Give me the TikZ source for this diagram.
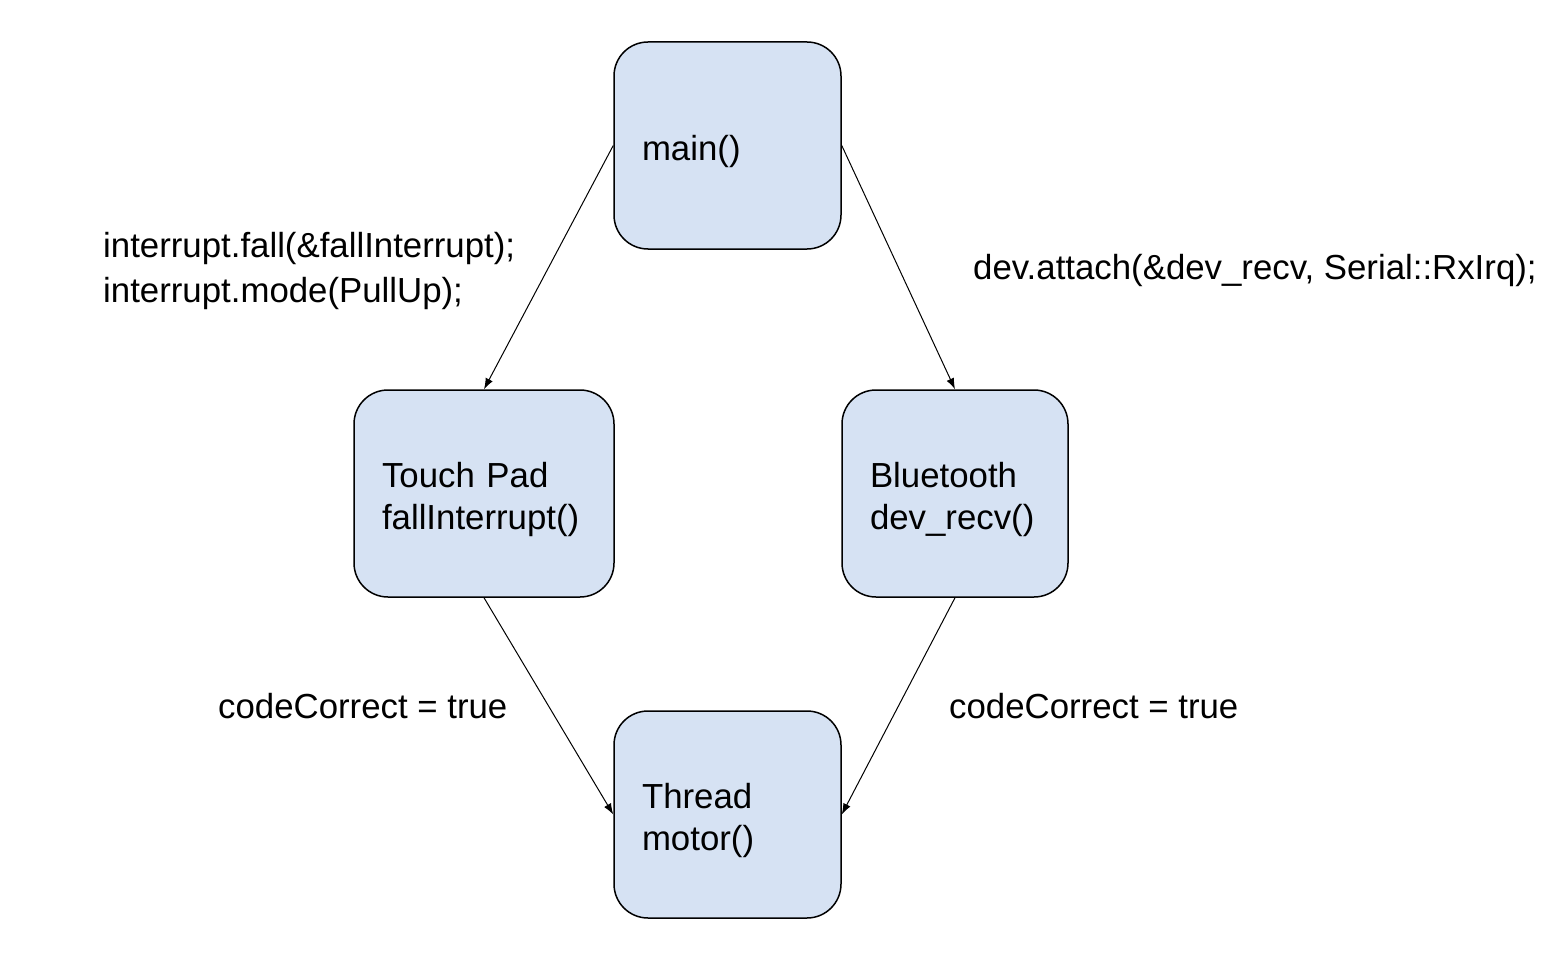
\documentclass[tikz,border=0pt]{standalone}
\usepackage{fontspec}
\setmainfont{Liberation Sans}
\usetikzlibrary{arrows.meta}
\definecolor{boxfill}{RGB}{214,226,243}
\begin{document}
\begin{tikzpicture}[x=1pt,y=-1pt,
  box/.style={draw=black, fill=boxfill, line width=1.5pt, rounded corners=34pt,
    minimum height=207pt, inner xsep=28pt, inner ysep=0pt, align=left,
    execute at begin node={\rule{0pt}{38pt}},
    font=\fontsize{34.8}{42}\selectfont},
  lbl/.style={anchor=west, align=left, inner sep=0pt, font=\fontsize{34.8}{45}\selectfont},
  conn/.style={line width=1pt, -{Latex[length=11pt,width=8pt]}}]
\useasboundingbox (0,0) rectangle (1550,955);
\node[box, text width=171pt] (main) at (727.5,145.5) {main()};
\node[box, text width=204pt] (tp) at (484,493.5) {Touch Pad\\fallInterrupt()};
\node[box, text width=170pt] (bt) at (955,493.5) {Bluetooth\\dev\_recv()};
\node[box, text width=171pt] (th) at (727.5,814.5) {Thread\\motor()};
\draw[conn] (main.west) -- (tp.north);
\draw[conn] (main.east) -- (bt.north);
\draw[conn] (tp.south) -- (th.west);
\draw[conn] (bt.south) -- (th.east);
\node[lbl] (l1) at (103,271) {interrupt.fall(\&fallInterrupt);\\interrupt.mode(PullUp);};
\node[lbl] (l2) at (973,271) {dev.attach(\&dev\_recv, Serial::RxIrq);};
\node[lbl] (l3) at (218,706) {codeCorrect = true};
\node[lbl] (l4) at (949,706) {codeCorrect = true};
\end{tikzpicture}
\end{document}
